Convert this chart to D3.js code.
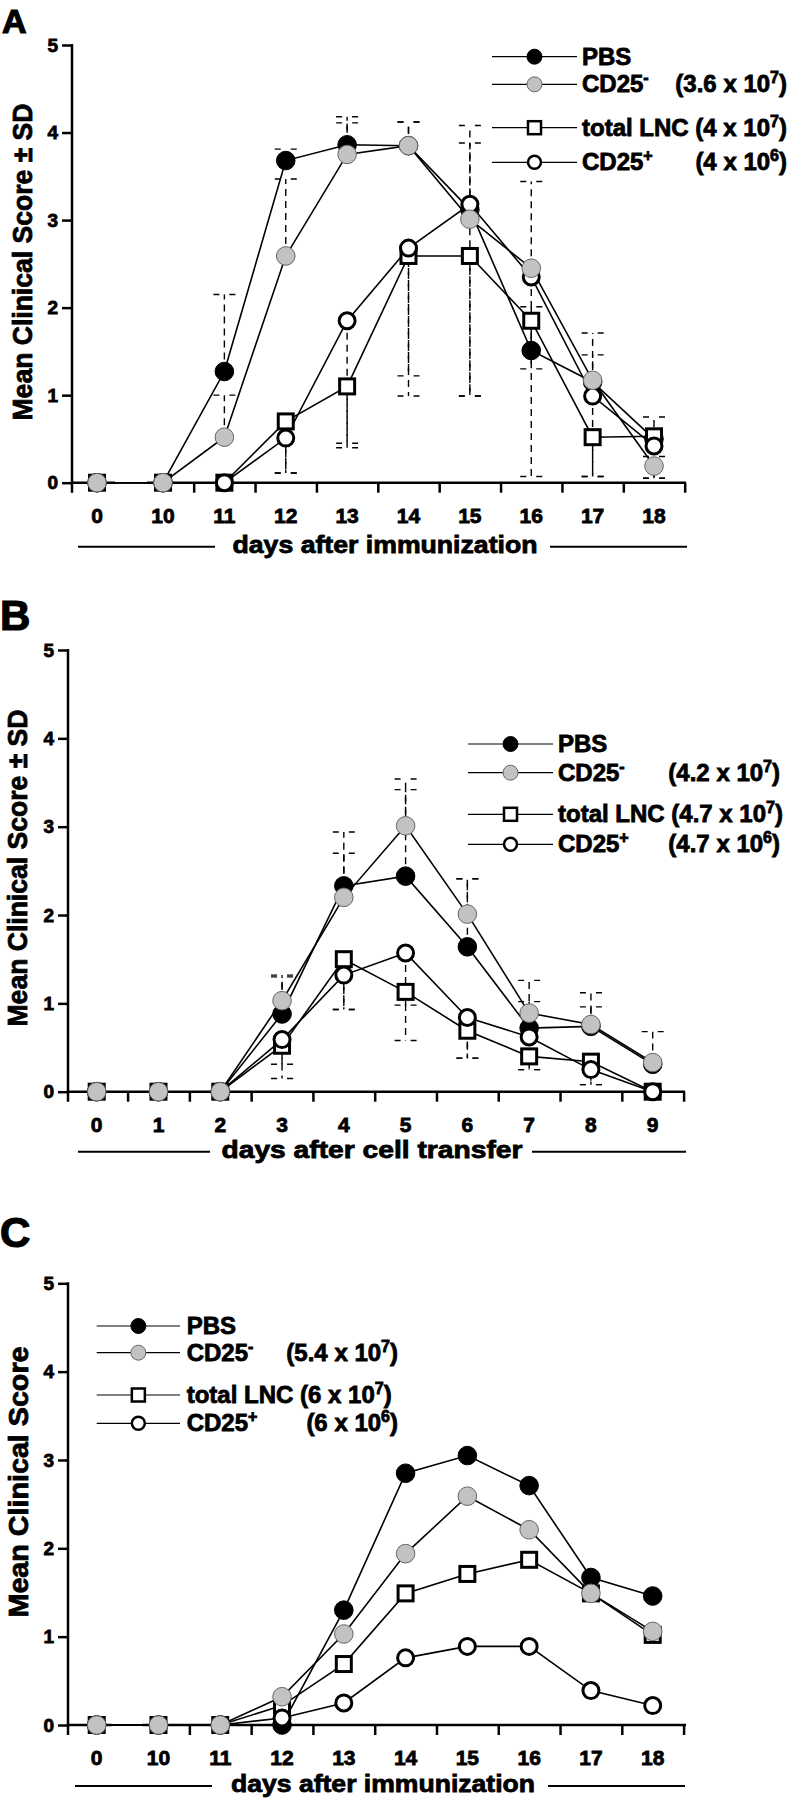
<!DOCTYPE html>
<html>
<head>
<meta charset="utf-8">
<script src="https://cdn.jsdelivr.net/npm/d3@7"></script>
<style>
  body { margin: 0; background: #fff; }
  text { font-family: "Liberation Sans", Arial, sans-serif; font-weight: bold; fill: #000;
         stroke: #000; stroke-width: 0.8px; paint-order: stroke; }
</style>
</head>
<body>
<div id="chart"></div>
<script>
// ---------- data ----------
// A: days after immunization
var daysA   = ["0","10","11","12","13","14","15","16","17","18"];
var pbsA    = [0, 0, 1.27, 3.68, 3.86, 3.85, 3.12, 1.51, 1.15, 0.50];
var negA    = [0, 0, 0.52, 2.59, 3.75, 3.85, 3.01, 2.45, 1.17, 0.19];
var lncA    = [0, 0, 0,    0.70, 1.10, 2.59, 2.59, 1.85, 0.52, 0.53];
var posA    = [0, 0, 0,    0.51, 1.85, 2.68, 3.18, 2.35, 0.99, 0.42];
var sdPbsA  = [0, 0, 0.88, 0.13, 0.32, 0.27, 0.96, 0.50, 0.56, 0.25];
var sdNegA  = [0, 0, 0.48, 0.88, 0.36, 0.27, 0.87, 0.99, 0.29, 0.11];
var sdLncA  = [0, 0, 0,    0.59, 0.65, 1.37, 1.60, 0.55, 0.45, 0.48];
var sdPosA  = [0, 0, 0,    0.40, 1.45, 1.69, 2.19, 2.28, 0.92, 0.37];
var cellsA  = [["3.6","7"], ["4","7"], ["4","6"]];

// B: days after cell transfer
var daysB   = ["0","1","2","3","4","5","6","7","8","9"];
var pbsB    = [0, 0, 0, 0.88, 2.33, 2.44, 1.64, 0.72, 0.74, 0.31];
var negB    = [0, 0, 0, 1.03, 2.20, 3.01, 2.01, 0.89, 0.76, 0.33];
var lncB    = [0, 0, 0, 0.52, 1.50, 1.13, 0.69, 0.40, 0.34, 0];
var posB    = [0, 0, 0, 0.59, 1.32, 1.57, 0.84, 0.62, 0.25, 0];
var sdPbsB  = [0, 0, 0, 0.42, 0.61, 0.98, 0.77, 0.30, 0.22, 0];
var sdNegB  = [0, 0, 0, 0.29, 0.50, 0.53, 0.40, 0.37, 0.36, 0.35];
var sdLncB  = [0, 0, 0, 0.21, 0.57, 0.55, 0.31, 0.15, 0.26, 0];
var sdPosB  = [0, 0, 0, 0.44, 0.39, 0.59, 0.46, 0.37, 0.17, 0];
var cellsB  = [["4.2","7"], ["4.7","7"], ["4.7","6"]];

// C: days after immunization, no SD
var daysC   = ["0","10","11","12","13","14","15","16","17","18"];
var pbsC    = [0, 0, 0, 0,    1.30, 2.85, 3.05, 2.71, 1.67, 1.46];
var negC    = [0, 0, 0, 0.32, 1.03, 1.94, 2.59, 2.21, 1.49, 1.06];
var lncC    = [0, 0, 0, 0.22, 0.69, 1.49, 1.71, 1.87, 1.49, 1.02];
var posC    = [0, 0, 0, 0.08, 0.25, 0.76, 0.89, 0.89, 0.39, 0.22];
var cellsC  = [["5.4","7"], ["6","7"], ["6","6"]];

var yTicks = [0, 1, 2, 3, 4, 5];

// ---------- styles ----------
// draw order: PBS, total LNC, CD25+, CD25- (gray on top)
var styles = {
  pbs: {shape: "circle", fill: "#000",    stroke: "#000", sw: 1,   dir: 1},
  lnc: {shape: "square", fill: "#fff",    stroke: "#000", sw: 3,   dir: -1},
  pos: {shape: "circle", fill: "#fff",    stroke: "#000", sw: 3,   dir: -1},
  neg: {shape: "circle", fill: "#c2c2c2", stroke: "#666", sw: 1,   dir: 1}
};
var drawOrder = ["pbs", "lnc", "pos", "neg"];

var svg = d3.select("#chart").append("svg")
  .attr("width", 789).attr("height", 1800);

function marker(g, key, cx, cy, small) {
  var s = styles[key];
  var m;
  if (s.shape === "square") {
    var side = small ? 13 : 15;
    m = g.append("rect").attr("x", cx - side/2).attr("y", cy - side/2)
      .attr("width", side).attr("height", side);
  } else {
    var r = s.sw > 2 ? (small ? 6.5 : 8) : (small ? 7.5 : 9.3);
    m = g.append("circle").attr("cx", cx).attr("cy", cy).attr("r", r);
  }
  m.attr("fill", s.fill).attr("stroke", s.stroke)
   .attr("stroke-width", small && s.sw > 2 ? 2.5 : s.sw);
}

function supText(t, parts) {
  // parts: [text, superscript, text, ...]
  parts.forEach(function(str, i) {
    if (!str) return;
    var sp = t.append("tspan").text(str);
    if (i % 2 === 1) sp.attr("font-size", 16).attr("dy", -9);
    else if (i > 0) sp.attr("dy", 9);
  });
}

function drawPanel(p) {
  var g = svg.append("g");
  var x = p.x, y = p.y;
  var y0 = y(0);

  // panel letter
  g.append("text").attr("x", p.letterX).attr("y", p.letterY)
    .attr("font-size", p.letterSize).style("stroke-width", "1.2px").text(p.letter);

  // y axis
  var ya = g.append("g").attr("transform", "translate(" + p.axisX + ",0)")
    .call(d3.axisLeft(y).tickValues(yTicks).tickSize(10).tickPadding(4)
      .tickFormat(d3.format("d")));
  ya.select(".domain").remove();
  ya.selectAll("line").attr("stroke", "#000").attr("stroke-width", 2.5);
  ya.selectAll("text").attr("font-size", 19).attr("font-family", null);
  g.append("line").attr("x1", p.axisX).attr("x2", p.axisX)
    .attr("y1", y(5) - 1).attr("y2", y0 + 10)
    .attr("stroke", "#000").attr("stroke-width", 2.5);

  // x axis: ticks sit between days
  var tickIdx = d3.range(p.firstTick, 10).map(function(i) { return i + 0.5; });
  var xa = g.append("g").attr("transform", "translate(0," + y0 + ")")
    .call(d3.axisBottom(x).tickValues(tickIdx).tickSize(10).tickFormat(""));
  xa.select(".domain").remove();
  xa.selectAll("line").attr("stroke", "#000").attr("stroke-width", 2.5);
  p.segments.forEach(function(sg) {
    g.append("line").attr("x1", sg[0]).attr("x2", sg[1])
      .attr("y1", y0).attr("y2", y0)
      .attr("stroke", "#000").attr("stroke-width", 2.5);
  });
  g.selectAll(".xlab").data(p.days).enter().append("text")
    .attr("class", "xlab")
    .attr("x", function(d, i) { return x(i); })
    .attr("y", y0 + 40)
    .attr("text-anchor", "middle").attr("font-size", 21)
    .text(function(d) { return d; });

  // x title with rules either side
  g.append("text").attr("x", p.titleX).attr("y", y0 + p.titleDy)
    .attr("text-anchor", "middle").attr("font-size", 24)
    .attr("textLength", p.titleLen).attr("lengthAdjust", "spacingAndGlyphs")
    .text(p.xTitle);
  p.rules.forEach(function(r) {
    g.append("line").attr("x1", r[0]).attr("x2", r[1])
      .attr("y1", y0 + p.titleDy - 6).attr("y2", y0 + p.titleDy - 6)
      .attr("stroke", "#000").attr("stroke-width", 2);
  });

  // y title
  g.append("text")
    .attr("transform", "translate(" + p.yTitleX + "," + p.yTitleY + ") rotate(-90)")
    .attr("text-anchor", "middle").attr("font-size", 27)
    .attr("textLength", p.yTitleLen).attr("lengthAdjust", "spacingAndGlyphs")
    .text(p.yTitle);

  // error bars (dashed, PBS/CD25- upward, LNC/CD25+ downward)
  var eb = g.append("g").attr("stroke", "#000").attr("stroke-width", 1.4)
    .attr("fill", "none");
  if (p.sd) {
    drawOrder.forEach(function(k) {
      var vals = p.series[k], sds = p.sd[k], dir = styles[k].dir;
      vals.forEach(function(v, i) {
        if (!sds[i]) return;
        var end = v + dir * sds[i];
        eb.append("line").attr("x1", x(i)).attr("x2", x(i))
          .attr("y1", y(v)).attr("y2", y(end))
          .attr("stroke-dasharray", "7,5");
        eb.append("line").attr("x1", x(i) - 11).attr("x2", x(i) + 11)
          .attr("y1", y(end)).attr("y2", y(end))
          .attr("stroke-dasharray", "6,10");
      });
    });
  }

  // series lines
  var line = d3.line().x(function(d, i) { return x(i); }).y(function(d) { return y(d); });
  drawOrder.forEach(function(k) {
    g.append("path").datum(p.series[k]).attr("d", line)
      .attr("fill", "none").attr("stroke", "#000").attr("stroke-width", 1.6);
  });
  // markers
  drawOrder.forEach(function(k) {
    p.series[k].forEach(function(v, i) { marker(g, k, x(i), y(v), false); });
  });

  // legend
  var L = p.legend;
  var c = p.cells;
  var rows = [
    {key: "pbs", left: ["PBS"], right: null},
    {key: "neg", left: ["CD25", "-"], right: ["(" + c[0][0] + " x 10", c[0][1], ")"]},
    {key: "lnc", left: ["total LNC (" + c[1][0] + " x 10", c[1][1], ")"], right: null},
    {key: "pos", left: ["CD25", "+"], right: ["(" + c[2][0] + " x 10", c[2][1], ")"]}
  ];
  rows.forEach(function(r, j) {
    var ry = L.rows[j];
    g.append("line").attr("x1", L.x0).attr("x2", L.x1).attr("y1", ry).attr("y2", ry)
      .attr("stroke", "#000").attr("stroke-width", 1.2);
    marker(g, r.key, (L.x0 + L.x1) / 2, ry, true);
    var t = g.append("text").attr("x", L.tx).attr("y", ry + 8).attr("font-size", 24);
    supText(t, r.left);
    if (r.right) {
      var t2 = g.append("text").attr("x", L.rx).attr("y", ry + 8)
        .attr("font-size", 24).attr("text-anchor", "end");
      supText(t2, r.right);
    }
  });
}

// ---------- panels ----------
var xA = d3.scaleLinear().domain([0, 1, 9]).range([97, 163, 654]);
drawPanel({
  letter: "A", letterX: 2, letterY: 33, letterSize: 34,
  x: xA, y: d3.scaleLinear().domain([0, 5]).range([482.7, 45]),
  axisX: 72, firstTick: 1,
  segments: [[72, xA(0) + 18], [xA(1) - 16, 686]],
  days: daysA,
  xTitle: "days after immunization", titleX: 385, titleDy: 70, titleLen: 305,
  rules: [[78, 215], [550, 687]],
  yTitle: "Mean Clinical Score \u00b1 SD", yTitleX: 32, yTitleY: 262, yTitleLen: 317,
  series: {pbs: pbsA, neg: negA, lnc: lncA, pos: posA},
  sd: {pbs: sdPbsA, neg: sdNegA, lnc: sdLncA, pos: sdPosA},
  cells: cellsA,
  legend: {rows: [56.7, 84.3, 127.7, 162.3], x0: 492, x1: 577, tx: 582, rx: 787}
});

var xB = d3.scaleLinear().domain([0, 9]).range([96.7, 652.7]);
drawPanel({
  letter: "B", letterX: 0, letterY: 630, letterSize: 42,
  x: xB, y: d3.scaleLinear().domain([0, 5]).range([1091.7, 650]),
  axisX: 68, firstTick: 0,
  segments: [[68, 685]],
  days: daysB,
  xTitle: "days after cell transfer", titleX: 372, titleDy: 66, titleLen: 301,
  rules: [[78, 210], [532, 686]],
  yTitle: "Mean Clinical Score \u00b1 SD", yTitleX: 27, yTitleY: 868, yTitleLen: 317,
  series: {pbs: pbsB, neg: negB, lnc: lncB, pos: posB},
  sd: {pbs: sdPbsB, neg: sdNegB, lnc: sdLncB, pos: sdPosB},
  cells: cellsB,
  legend: {rows: [744, 772.7, 814.3, 844.3], x0: 468, x1: 553, tx: 558, rx: 780}
});

var xC = d3.scaleLinear().domain([0, 9]).range([96.7, 652.7]);
drawPanel({
  letter: "C", letterX: 0, letterY: 1247, letterSize: 42,
  x: xC, y: d3.scaleLinear().domain([0, 5]).range([1725, 1283.3]),
  axisX: 68, firstTick: 1,
  segments: [[68, xC(0) + 15], [xC(1) - 16, 686]],
  days: daysC,
  xTitle: "days after immunization", titleX: 383, titleDy: 67, titleLen: 304,
  rules: [[75, 212], [548, 685]],
  yTitle: "Mean Clinical Score", yTitleX: 27.5, yTitleY: 1482, yTitleLen: 271,
  series: {pbs: pbsC, neg: negC, lnc: lncC, pos: posC},
  sd: null,
  cells: cellsC,
  legend: {rows: [1326, 1352.7, 1395, 1423.3], x0: 96.7, x1: 180, tx: 186.7, rx: 398}
});
</script>
</body>
</html>
